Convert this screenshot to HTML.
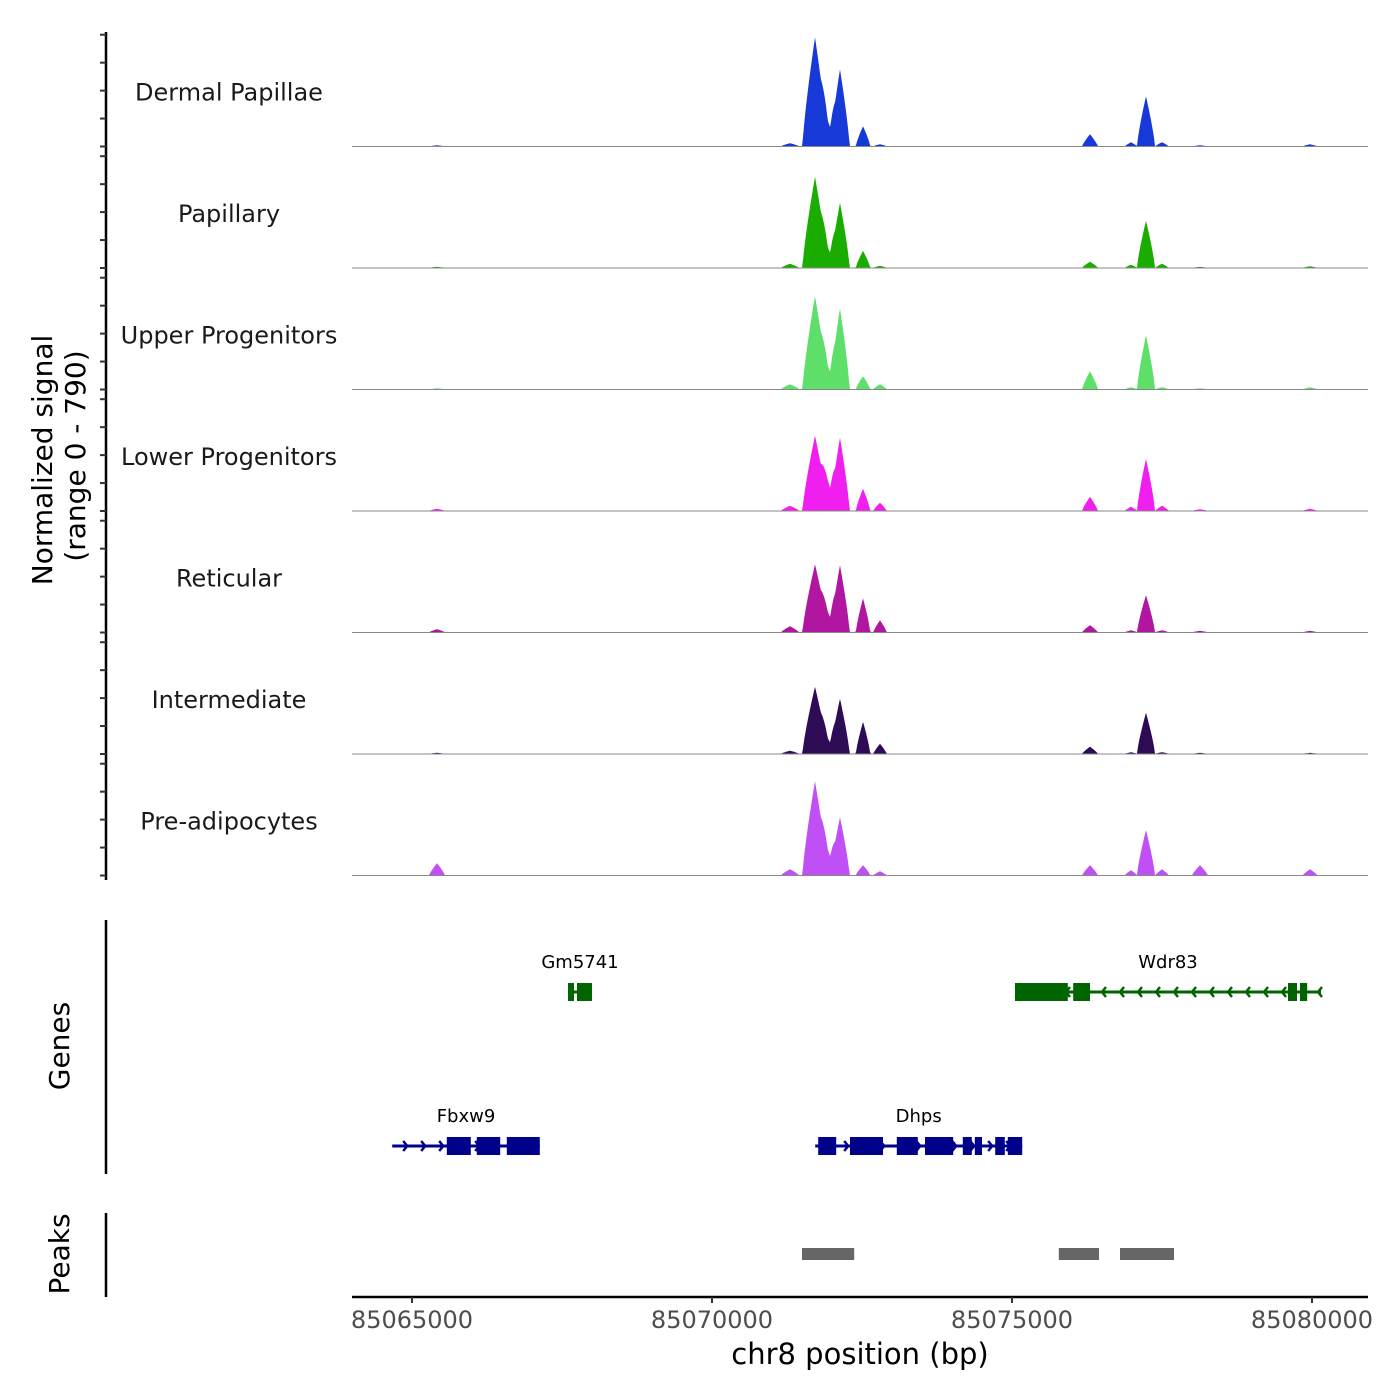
<!DOCTYPE html>
<html><head><meta charset="utf-8"><style>
body{margin:0;background:#fff}
svg{display:block;font-family:"DejaVu Sans","Liberation Sans",sans-serif}
</style></head><body>
<svg id="chart" width="1400" height="1400" viewBox="0 0 1400 1400">
<g id="tracks"></g>
<g id="leftaxis"></g>
<text x="52" y="460" font-size="28" text-anchor="middle" transform="rotate(-90 52 460)">Normalized signal</text>
<text x="85" y="456" font-size="28" text-anchor="middle" transform="rotate(-90 85 456)">(range 0 - 790)</text>
<line x1="106" y1="920" x2="106" y2="1174" stroke="#000" stroke-width="2.5"/>
<text x="69" y="1046" font-size="28" text-anchor="middle" transform="rotate(-90 69 1046)">Genes</text>
<line x1="106" y1="1213" x2="106" y2="1297" stroke="#000" stroke-width="2.5"/>
<text x="69" y="1254" font-size="28" text-anchor="middle" transform="rotate(-90 69 1254)">Peaks</text>
<g id="genes"></g>
<g id="peaks"></g>
<g id="xaxis"></g>
<text x="860" y="1364" font-size="29" text-anchor="middle">chr8 position (bp)</text>
</svg>
<script>
const trackNames=["Dermal Papillae","Papillary","Upper Progenitors","Lower Progenitors","Reticular","Intermediate","Pre-adipocytes"];
const trackColors=["#1739d8","#1aad00","#5ddf6a","#f01ff0","#b0169f","#2e0b55","#c050f5"];
const peakCenters=[85071717,85071933,85072133,85072517,85076300,85077233,85071300,85072800,85076983,85077500,85065417,85078133,85079967];
const peakWidths=[210,120,160,120,130,150,150,110,100,110,130,130,120];
const sigDermal=[709,163,500,130,78,325,20,13,26,26,6,6,13];
const sigPapillary=[592,130,423,110,39,305,26,13,20,26,6,6,10];
const sigUpper=[605,150,527,85,117,351,33,33,13,13,6,6,13];
const sigLower=[488,195,475,143,91,338,33,52,26,33,13,10,13];
const sigReticular=[442,130,436,221,46,241,39,78,13,13,20,10,10];
const sigIntermediate=[436,98,358,208,46,267,20,65,10,10,6,6,6];
const sigPreadipo=[611,163,377,65,65,293,39,26,33,39,78,65,39];
const signals=[sigDermal,sigPapillary,sigUpper,sigLower,sigReticular,sigIntermediate,sigPreadipo];
const xTicks=[85065000,85070000,85075000,85080000];
const genes=[
 {name:"Gm5741",row:0,start:85067600,end:85068000,strand:-1,color:"#006400",exons:[[85067600,85067700],[85067750,85068000]]},
 {name:"Wdr83",row:0,start:85075050,end:85080150,strand:-1,color:"#006400",exons:[[85075050,85075930],[85076020,85076300],[85079600,85079750],[85079800,85079920]]},
 {name:"Fbxw9",row:1,start:85064670,end:85067130,strand:1,color:"#00008b",exons:[[85065580,85065980],[85066080,85066470],[85066580,85067130]]},
 {name:"Dhps",row:1,start:85071720,end:85075170,strand:1,color:"#00008b",exons:[[85071770,85072070],[85072300,85072850],[85073080,85073430],[85073550,85074020],[85074180,85074330],[85074380,85074500],[85074720,85074880],[85074930,85075170]]}
];
const peakRegions=[[85071500,85072370],[85075780,85076450],[85076800,85077700]];

const NS="http://www.w3.org/2000/svg";
const X0=85064000,PX0=352,SC=0.06;
const xs=bp=>PX0+(bp-X0)*SC;
const TOP=25,TH=121.5,YMAX=790;
function mk(tag,attrs,parent){const e=document.createElementNS(NS,tag);for(const k in attrs)e.setAttribute(k,attrs[k]);parent.appendChild(e);return e;}
const tracksG=document.getElementById('tracks');
signals.forEach((sig,t)=>{
  const base=TOP+(t+1)*TH;
  const ys=v=>base-v/YMAX*TH;
  const g=mk('g',{},tracksG);
  
  
  let d="M352,"+base;
  for(let px=352;px<=1323;px+=1){
    const bp=X0+(px-PX0)/SC;let v=1.5;
    for(let i=0;i<peakCenters.length;i++){const r=Math.abs(bp-peakCenters[i])/peakWidths[i];if(r<1)v+=sig[i]*Math.pow(1-r,0.8);}
    d+=" L"+px+","+ys(v).toFixed(1);
  }
  d+=" L1323,"+base+" Z";
  const p=mk('path',{d:d,fill:trackColors[t]},g);
  
  
  const l=mk('line',{x1:352,x2:1368,y1:base,y2:base,stroke:"#888","stroke-width":1},g);
  
  
  const tx=mk('text',{x:229,y:base-46,"font-size":24,"text-anchor":"middle",fill:"#1a1a1a"},g);
  tx.textContent=trackNames[t];
  
  
});
const la=document.getElementById('leftaxis');
mk('line',{x1:106,x2:106,y1:32,y2:880,stroke:"#000","stroke-width":2.5},la);
for(let t=0;t<7;t++){const base=TOP+(t+1)*TH;for(let k=0;k<5;k++){const y=base-k*TH*0.23;const tk=mk('line',{x1:100,x2:106,y1:y,y2:y,stroke:"#333","stroke-width":2},la);}}
const gg=document.getElementById('genes');
genes.forEach(ge=>{
  const y=ge.row===0?992:1146;
  const g=mk('g',{},gg);
  
  
  mk('line',{x1:xs(ge.start),x2:xs(ge.end),y1:y,y2:y,stroke:ge.color,"stroke-width":3},g);
  for(let bp=ge.start+250;bp<ge.end;bp+=300){const x=xs(bp);const dx=ge.strand*4;mk('polyline',{points:(x-dx)+","+(y-5)+" "+x+","+y+" "+(x-dx)+","+(y+5),fill:"none",stroke:ge.color,"stroke-width":2.5},g);}
  ge.exons.forEach(e=>{const r=mk('rect',{x:xs(e[0]),y:y-9,width:xs(e[1])-xs(e[0]),height:18,fill:ge.color},g);});
  const tx=mk('text',{x:(xs(ge.start)+xs(ge.end))/2,y:y-24,"font-size":18,"text-anchor":"middle"},g);
  tx.textContent=ge.name;
  
  
});
const pg=document.getElementById('peaks');
peakRegions.forEach(p=>{const r=mk('rect',{x:xs(p[0]),y:1248,width:xs(p[1])-xs(p[0]),height:12,fill:"#666"},pg);});
const xa=document.getElementById('xaxis');
mk('line',{x1:352,x2:1368,y1:1297,y2:1297,stroke:"#000","stroke-width":2.5},xa);
xTicks.forEach(v=>{const x=xs(v);const tk=mk('line',{x1:x,x2:x,y1:1297,y2:1303,stroke:"#333","stroke-width":2},xa);
const tx=mk('text',{x:x,y:1328,"font-size":24,"text-anchor":"middle",fill:"#4d4d4d"},xa);tx.textContent=v;});
</script>
</body></html>
